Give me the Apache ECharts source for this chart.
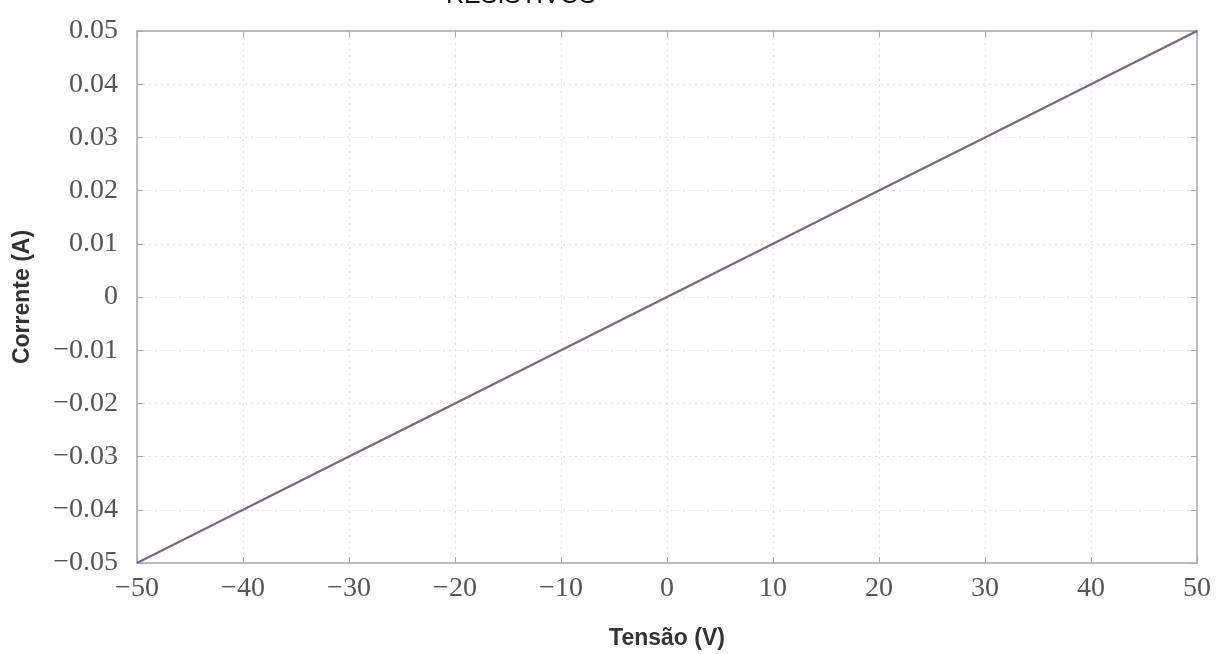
<!DOCTYPE html>
<html><head><meta charset="utf-8">
<script src="https://cdn.jsdelivr.net/npm/echarts@6/dist/echarts.min.js"></script>
<style>html,body{margin:0;padding:0;background:#fff}#c{width:1216px;height:654px}</style>
</head><body><div id="c"></div>
<script>
const voltage = [-50, -40, -30, -20, -10, 0, 10, 20, 30, 40, 50];
const current = [-0.05, -0.04, -0.03, -0.02, -0.01, 0, 0.01, 0.02, 0.03, 0.04, 0.05];
const titleText = 'RESISTIVOS';
const xName = 'Tensão (V)';
const yName = 'Corrente (A)';
const fmt = v => String(+v.toFixed(2)).replace('-', '\u2212');
const axisColor = '#a8a8a8';
const baseAxis = {
  type: 'value',
  axisLine: { show: true, onZero: false, lineStyle: { color: axisColor, width: 1.5 } },
  axisTick: { show: true, inside: true, length: 6, lineStyle: { color: axisColor } },
  splitLine: { show: false }
};
const labelStyle = { fontFamily: 'Liberation Serif', fontSize: 28, color: '#555' };
const nameStyle = { fontFamily: 'Liberation Sans', fontWeight: 'bold', fontSize: 23, color: '#333' };
const chart = echarts.init(document.getElementById('c'));
chart.setOption({
  animation: false,
  title: { text: titleText, left: 516, top: -21, textAlign: 'center',
    textStyle: { fontFamily: 'Liberation Sans', fontWeight: 'normal', fontSize: 25, color: '#111' } },
  grid: { left: 137, right: 19, top: 31, bottom: 91, containLabel: false, outerBoundsMode: 'none' },
  xAxis: [
    Object.assign({}, baseAxis, {
      min: -50, max: 50, interval: 10, position: 'bottom',
      name: xName, nameLocation: 'middle', nameGap: 64, nameTextStyle: nameStyle,
      axisLabel: Object.assign({ formatter: fmt, margin: 12 }, labelStyle),
      splitLine: { show: true, lineStyle: { color: '#e2e2e2', type: [2, 4], width: 1 } }
    }),
    Object.assign({}, baseAxis, { min: -50, max: 50, interval: 10, position: 'top', axisLabel: { show: false } })
  ],
  yAxis: [
    Object.assign({}, baseAxis, {
      min: -0.05, max: 0.05, interval: 0.01, position: 'left',
      name: yName, nameLocation: 'middle', nameGap: 103, nameRotate: 90, nameTextStyle: nameStyle,
      axisLabel: Object.assign({ formatter: fmt, margin: 19 }, labelStyle),
      splitLine: { show: true, lineStyle: { color: '#e2e2e2', type: [2, 4], width: 1 } }
    }),
    Object.assign({}, baseAxis, { min: -0.05, max: 0.05, interval: 0.01, position: 'right', axisLabel: { show: false } })
  ],
  series: [{
    type: 'line', xAxisIndex: 0, yAxisIndex: 0,
    data: voltage.map((v, i) => [v, current[i]]),
    showSymbol: false, lineStyle: { color: '#76668f', width: 2.2 }
  }]
});
</script></body></html>
